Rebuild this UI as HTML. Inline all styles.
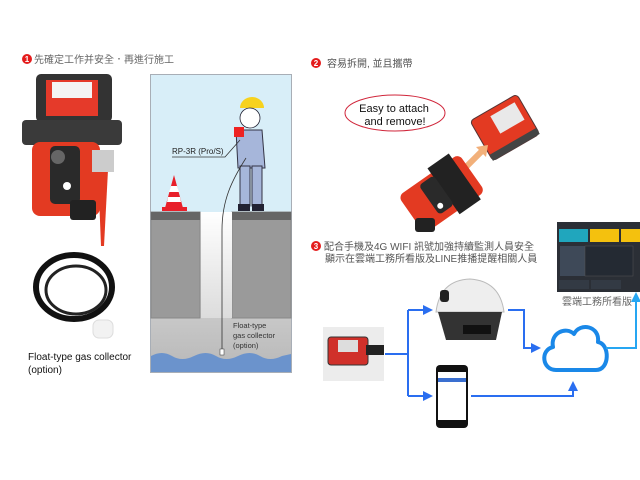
<!DOCTYPE html>
<html><head><meta charset="utf-8"><style>
html,body{margin:0;padding:0;background:#fff;}
svg{display:block;}
text{font-family:"Liberation Sans","Noto Sans CJK TC",sans-serif;}
</style></head><body>
<svg width="640" height="480" viewBox="0 0 640 480" xmlns="http://www.w3.org/2000/svg">
<defs>
<linearGradient id="pit" x1="0" y1="0" x2="0" y2="1"><stop offset="0" stop-color="#e6e6e6"/><stop offset="1" stop-color="#b8b8b8"/></linearGradient>
<linearGradient id="shaft" x1="0" y1="0" x2="0" y2="1"><stop offset="0" stop-color="#ffffff"/><stop offset="1" stop-color="#dcdcdc"/></linearGradient>
<marker id="ab" viewBox="0 0 10 10" refX="8" refY="5" markerWidth="5" markerHeight="5" orient="auto"><path d="M0,0L10,5L0,10z" fill="#2a6ef0"/></marker>
<marker id="ac" viewBox="0 0 10 10" refX="8" refY="5" markerWidth="5" markerHeight="5" orient="auto"><path d="M0,0L10,5L0,10z" fill="#26a6f2"/></marker>
</defs>

<circle cx="27" cy="59" r="5" fill="#e41c1c"/><text x="27" y="62" font-size="8" fill="#fff" text-anchor="middle" font-weight="bold">1</text>
<text x="34" y="63" font-size="10" fill="#666">先確定工作并安全．再進行施工</text>

<rect x="36" y="74" width="76" height="48" rx="5" fill="#333"/>
<rect x="46" y="80" width="52" height="36" fill="#e53a2a"/>
<rect x="52" y="82" width="40" height="16" fill="#f4f4f4"/>
<rect x="22" y="120" width="100" height="25" rx="4" fill="#3a3a3a"/>
<rect x="32" y="142" width="68" height="74" rx="8" fill="#e33a22"/>
<rect x="50" y="146" width="30" height="58" rx="5" fill="#2a2a2a"/>
<circle cx="58" cy="157" r="7" fill="#666"/>
<circle cx="67" cy="186" r="4" fill="#fff"/>
<rect x="70" y="200" width="26" height="20" rx="3" fill="#222"/>
<path d="M98,170 L108,170 L104,246 L101,246 Z" fill="#e33a22"/>
<rect x="92" y="150" width="22" height="22" fill="#ccc"/>

<ellipse cx="74" cy="287" rx="38" ry="32" fill="none" stroke="#111" stroke-width="6"/>
<ellipse cx="76" cy="290" rx="30" ry="24" fill="none" stroke="#222" stroke-width="3"/>
<rect x="93" y="320" width="20" height="18" rx="6" fill="#f2f2f2" stroke="#ddd"/>
<text x="28" y="360" font-size="10" fill="#111">Float-type gas collector</text>
<text x="28" y="373" font-size="10" fill="#111">(option)</text>

<rect x="150.5" y="74.5" width="141" height="298" fill="#d8eef8" stroke="#a8aeb6"/>
<rect x="151" y="212" width="140" height="160" fill="url(#pit)"/>
<rect x="151" y="212" width="49" height="106" fill="#9a9a9a" stroke="#888"/>
<rect x="151" y="212" width="49" height="8" fill="#666"/>
<rect x="232" y="212" width="59" height="106" fill="#9a9a9a" stroke="#888"/>
<rect x="232" y="212" width="59" height="8" fill="#666"/>
<rect x="201" y="212" width="31" height="106" fill="url(#shaft)"/>
<path d="M151,356 Q162,350 172,356 T194,356 T216,356 T238,356 T260,356 T282,356 L291,354 L291,372 L151,372 Z" fill="#6b93cc"/>
<path d="M174,175 L183,208 L165,208 Z" fill="#e8202a"/>
<path d="M171,186 L177,186 L179,192 L169,192 Z" fill="#fff"/>
<path d="M168,197 L180,197 L181,202 L167,202 Z" fill="#fff"/>
<rect x="162" y="207" width="25" height="4" fill="#e8202a"/>
<path d="M240,108 a12,11 0 0 1 24,0 z" fill="#f7d21e"/>
<circle cx="250" cy="118" r="10" fill="#fff" stroke="#223" stroke-width="0.8"/>
<path d="M236,130 L262,130 L265,168 L238,168 Z" fill="#a6b6da" stroke="#334"/>
<rect x="240" y="166" width="10" height="40" fill="#a6b6da" stroke="#334"/>
<rect x="252" y="166" width="10" height="40" fill="#a6b6da" stroke="#334"/>
<rect x="238" y="204" width="12" height="7" fill="#223"/>
<rect x="252" y="204" width="12" height="7" fill="#223"/>
<rect x="234" y="127" width="10" height="10" fill="#e22" />
<path d="M172,157 L225,157 L240,140" fill="none" stroke="#333" stroke-width="0.8"/>
<text x="172" y="154" font-size="8" fill="#222">RP-3R (Pro/S)</text>
<path d="M246,158 C232,180 222,200 222,230 L222,350" fill="none" stroke="#333" stroke-width="0.8"/>
<rect x="220" y="349" width="4" height="6" fill="#fff" stroke="#333" stroke-width="0.5"/>
<text x="233" y="328" font-size="7.5" fill="#333">Float-type</text>
<text x="233" y="338" font-size="7.5" fill="#333">gas collector</text>
<text x="233" y="348" font-size="7.5" fill="#333">(option)</text>

<circle cx="316" cy="63" r="5" fill="#e41c1c"/><text x="316" y="66" font-size="8" fill="#fff" text-anchor="middle" font-weight="bold">2</text>
<text x="327" y="67" font-size="10" fill="#555">容易拆開, 並且攜帶</text>
<ellipse cx="395" cy="113" rx="50" ry="18" fill="#fff" stroke="#d0253a" stroke-width="1"/>
<text x="394" y="112" font-size="11" fill="#111" text-anchor="middle">Easy to attach</text>
<text x="395" y="125" font-size="11" fill="#111" text-anchor="middle">and remove!</text>
<g transform="rotate(-30 504 128)"><rect x="478" y="105" width="54" height="46" rx="4" fill="#e33a22" stroke="#533"/><rect x="498" y="111" width="28" height="20" fill="#e9e9e9"/><rect x="478" y="144" width="54" height="7" fill="#444"/></g>
<path d="M464,169 L482,151" stroke="#f2b07a" stroke-width="6"/>
<path d="M458,175 L460,163 L470,173 Z M488,145 L486,157 L476,147 Z" fill="#f2b07a"/>
<g transform="rotate(-35 440 195)"><rect x="405" y="172" width="74" height="46" rx="6" fill="#e33a22"/><rect x="445" y="166" width="26" height="56" fill="#222"/><rect x="428" y="175" width="18" height="36" rx="4" fill="#2a2a2a"/><circle cx="434" cy="204" r="3" fill="#fff"/></g>
<rect x="415" y="218" width="20" height="14" rx="3" fill="#222"/>

<circle cx="316" cy="246" r="5" fill="#e41c1c"/><text x="316" y="249" font-size="8" fill="#fff" text-anchor="middle" font-weight="bold">3</text>
<text x="324" y="250" font-size="10" fill="#555">配合手機及4G WIFI 訊號加強持續監測人員安全</text>
<text x="325" y="262" font-size="10" fill="#555">顯示在雲端工務所看版及LINE推播提醒相關人員</text>

<rect x="557" y="222" width="83" height="70" fill="#2b2f36"/>
<rect x="559" y="229" width="29" height="13" fill="#20a6bd"/>
<rect x="590" y="229" width="29" height="13" fill="#f4c10e"/>
<rect x="621" y="229" width="19" height="13" fill="#f4c10e"/>
<rect x="560" y="246" width="25" height="30" fill="#3e4958"/>
<rect x="585" y="246" width="48" height="30" fill="#242a33" stroke="#555" stroke-width="0.5"/>
<rect x="559" y="280" width="30" height="9" fill="#333a44"/>
<rect x="591" y="280" width="30" height="9" fill="#333a44"/>
<text x="562" y="305" font-size="10" fill="#666">雲端工務所看版</text>

<rect x="323" y="327" width="61" height="54" fill="#ececec"/>
<rect x="328" y="337" width="40" height="28" rx="3" fill="#d0302a" stroke="#333"/>
<rect x="338" y="340" width="20" height="12" fill="#ddd"/>
<rect x="366" y="345" width="18" height="10" fill="#222"/>

<path d="M436,312 Q440,280 470,279 Q500,281 504,312 Z" fill="#eee" stroke="#bbb"/>
<path d="M438,312 L502,312 L496,340 L446,340 Z" fill="#333"/>
<rect x="463" y="325" width="28" height="9" fill="#111"/>
<rect x="440" y="290" width="9" height="12" rx="3" fill="#222"/>

<rect x="436" y="365" width="32" height="63" rx="4" fill="#111"/>
<rect x="438" y="372" width="28" height="48" fill="#fff"/>
<rect x="438" y="378" width="28" height="4" fill="#3a6fd0"/>

<path d="M556,370 C542,370 540,350 553,347 C550,333 566,326 574,334 C580,322 600,326 598,342 C610,344 610,370 596,370 Z" fill="#fff" stroke="#1a88e8" stroke-width="4" stroke-linejoin="round"/>

<g fill="none" stroke="#2a6ef0" stroke-width="2">
<path d="M385,354 L408,354"/>
<path d="M408,310 L408,396"/>
<path d="M408,310 L431,310" marker-end="url(#ab)"/>
<path d="M408,396 L431,396" marker-end="url(#ab)"/>
<path d="M508,310 L524,310 L524,348 L539,348" marker-end="url(#ab)"/>
<path d="M471,396 L573,396 L573,383" marker-end="url(#ab)"/>
</g>
<path d="M606,348 L636,348 L636,294" fill="none" stroke="#26a6f2" stroke-width="2" marker-end="url(#ac)"/>
</svg>
</body></html>
